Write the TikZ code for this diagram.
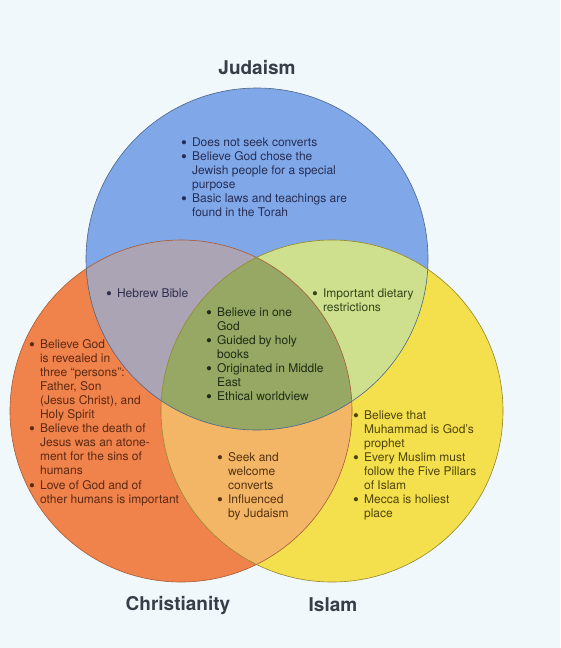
\documentclass[tikz,border=0pt]{standalone}
\usepackage{fontspec}
\setmainfont{TeX Gyre Heros}
\usepackage{tikz}
\usetikzlibrary{positioning}
\definecolor{bgcolor}{RGB}{240,248,252}
\definecolor{judcolor}{RGB}{128,168,232}
\definecolor{chrcolor}{RGB}{240,130,75}
\definecolor{islcolor}{RGB}{244,224,76}
\definecolor{jccolor}{RGB}{170,164,180}
\definecolor{jicolor}{RGB}{206,224,142}
\definecolor{cicolor}{RGB}{243,182,102}
\definecolor{allcolor}{RGB}{150,168,100}
\definecolor{titlecolor}{RGB}{55,62,72}
\definecolor{jtext}{RGB}{38,46,86}
\definecolor{ctext}{RGB}{92,42,18}
\definecolor{itext}{RGB}{78,68,10}
\definecolor{jctext}{RGB}{46,46,76}
\definecolor{jitext}{RGB}{52,70,24}
\definecolor{citext}{RGB}{86,50,16}
\definecolor{alltext}{RGB}{30,44,20}
\newcommand{\blt}{\raisebox{-2.2pt}[0pt][0pt]{\scalebox{1.4}{\textbullet}}}
\newcommand{\beliefs}[1]{\begin{tabular}[t]{@{}l@{\hspace{5pt}}l@{}}#1\end{tabular}}
\tikzset{
  religion/.style={font=\fontsize{19}{22}\selectfont\bfseries, text=titlecolor, inner sep=0pt},
  belief/.style={font=\fontsize{12}{14.1}\selectfont, inner sep=0pt, anchor=base west},
  ring/.style={radius=171pt}
}

\begin{document}
\begin{tikzpicture}[x=1pt, y=-1pt]
    % Fond
    \fill[bgcolor] (0,0) rectangle (560,648);
    \useasboundingbox (0,0) rectangle (560,648);

    % Centres des cercles
    \coordinate (judc) at (257,259);
    \coordinate (chrc) at (181,411);
    \coordinate (islc) at (332,411);

    % Cercles
    \fill[judcolor] (judc) circle[ring];
    \fill[chrcolor] (chrc) circle[ring];
    \fill[islcolor] (islc) circle[ring];

    % Intersections
    \begin{scope}
        \clip (chrc) circle[ring];
        \fill[cicolor] (islc) circle[ring];
    \end{scope}
    \begin{scope}
        \clip (judc) circle[ring];
        \fill[jccolor] (chrc) circle[ring];
        \fill[jicolor] (islc) circle[ring];
        \clip (chrc) circle[ring];
        \fill[allcolor] (islc) circle[ring];
    \end{scope}

    % Contours
    \draw[judcolor!60!black, line width=0.6pt] (judc) circle[ring];
    \draw[chrcolor!70!black, line width=0.6pt] (chrc) circle[ring];
    \draw[islcolor!60!black, line width=0.6pt] (islc) circle[ring];

    % Titres
    \node[religion] (judaism) at (257,68) {Judaism};
    \node[religion] (christianity) at (178,605) {Christianity};
    \node[religion] (islam) at (333,605) {Islam};

    % Judaisme
    \node[belief, text=jtext] (judlist) at (181,146) {\beliefs{
        \blt & Does not seek converts\\
        \blt & Believe God chose the\\
             & Jewish people for a special\\
             & purpose\\
        \blt & Basic laws and teachings are\\
             & found in the Torah}};

    % Judaisme et christianisme
    \node[belief, text=jctext] (hebrew) at (106,297) {\beliefs{
        \blt & Hebrew Bible}};

    % Judaisme et islam
    \node[belief, text=jitext] (dietary) at (312,297) {\beliefs{
        \blt & Important dietary\\
             & restrictions}};

    % Les trois
    \node[belief, text=alltext] (common) at (206,316) {\beliefs{
        \blt & Believe in one\\
             & God\\
        \blt & Guided by holy\\
             & books\\
        \blt & Originated in Middle\\
             & East\\
        \blt & Ethical worldview}};

    % Christianisme
    \node[belief, text=ctext] (chrlist) at (29,348) {\beliefs{
        \blt & Believe God\\
             & is revealed in\\
             & three ``persons'':\\
             & Father, Son\\
             & (Jesus Christ), and\\
             & Holy Spirit\\
        \blt & Believe the death of\\
             & Jesus was an atone-\\
             & ment for the sins of\\
             & humans\\
        \blt & Love of God and of\\
             & other humans is important}};

    % Christianisme et islam
    \node[belief, text=citext] (converts) at (217,461) {\beliefs{
        \blt & Seek and\\
             & welcome\\
             & converts\\
        \blt & Influenced\\
             & by Judaism}};

    % Islam
    \node[belief, text=itext] (isllist) at (353,419) {\beliefs{
        \blt & Believe that\\
             & Muhammad is God's\\
             & prophet\\
        \blt & Every Muslim must\\
             & follow the Five Pillars\\
             & of Islam\\
        \blt & Mecca is holiest\\
             & place}};
\end{tikzpicture}
\end{document}
